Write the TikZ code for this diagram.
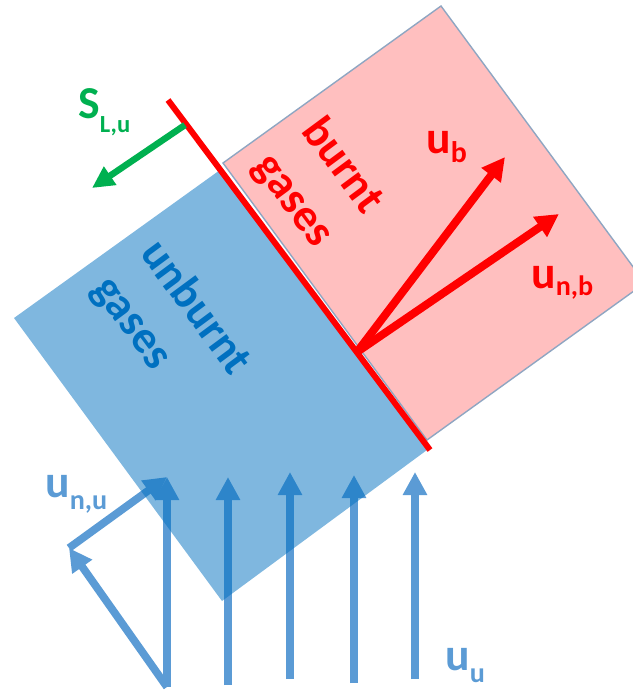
\documentclass[tikz,border=0pt]{standalone}
\usepackage{fontspec}
\setmainfont{Carlito}
\usetikzlibrary{arrows.meta}
\definecolor{flBlue}{HTML}{5B9BD5}
\definecolor{flDeep}{HTML}{0070C0}
\definecolor{flRed}{HTML}{FF0000}
\definecolor{flGreen}{HTML}{00B050}
\definecolor{flEdge}{HTML}{8FA6C2}
\newcommand{\lowsub}[3][6pt]{\raisebox{-#1}{\fontsize{#2}{#2}\selectfont #3}}
\tikzset{
  burntzone/.style={fill=flRed, fill opacity=0.25, draw=flEdge, draw opacity=1, line width=0.8pt},
  unburntzone/.style={fill=flDeep, fill opacity=0.5, draw=none},
  flame/.style={draw=flRed, line width=0.12cm},
  inflow/.style={-{Triangle[length=0.46cm, width=0.46cm]}, line width=0.155cm, flBlue},
  outflow/.style={-{Triangle[length=0.46cm, width=0.46cm]}, line width=0.16cm, flRed},
  speed/.style={-{Triangle[length=0.44cm, width=0.42cm]}, line width=0.13cm, flGreen},
  vlabel/.style={font=\fontsize{26}{31}\selectfont\bfseries, inner sep=0pt, anchor=base west},
  gaslabel/.style={font=\fontsize{26}{34}\selectfont\bfseries, align=left, rotate=-53.5, inner sep=0pt}
}
\begin{document}
\begin{tikzpicture}[x=0.02cm, y=-0.02cm]
  \useasboundingbox (0,0) rectangle (633,691);
  % burnt side
  \coordinate (b1) at (223,163); \coordinate (b2) at (441,6);
  \coordinate (b3) at (645,283); \coordinate (b4) at (427,440);
  \path[burntzone] (b1) -- (b2) -- (b3) -- (b4) -- cycle;
  % incoming flow
  \foreach \x/\ys/\ye [count=\i] in {167/687/477, 228/685/477, 290/679/472, 354/683/475, 415/679/472} {
    \coordinate (v\i-s) at (\x,\ys);
    \coordinate (v\i-e) at (\x,\ye);
    \draw[inflow] (v\i-s) -- (v\i-e);
  }
  \coordinate (tang) at (69,548);
  \draw[inflow] (v1-s) -- (tang);
  \draw[inflow] (tang) -- (v1-e);
  % unburnt side
  \coordinate (u1) at (220,170); \coordinate (u2) at (14,318);
  \coordinate (u3) at (222,601); \coordinate (u4) at (427,450);
  \path[unburntzone] (u1) -- (u2) -- (u3) -- (u4) -- cycle;
  % flame front
  \coordinate (f1) at (168,100); \coordinate (f2) at (430,450);
  \draw[flame] (f1) -- (f2);
  \coordinate (orig) at (357,352);
  \coordinate (ub) at (505,157); \coordinate (unb) at (559,214);
  \draw[outflow] (orig) -- (ub);
  \draw[outflow] (orig) -- (unb);
  \coordinate (sl-s) at (185,125); \coordinate (sl-e) at (92,188);
  \draw[speed] (sl-s) -- (sl-e);
  % labels
  \node[gaslabel, text=flRed] (burnt) at (318,184) {burnt\\gases};
  \node[gaslabel, text=flDeep] (unburnt) at (171,326) {unburnt\\gases};
  \node[vlabel, text=flGreen] (lsl) at (78,118) {S\lowsub[8pt]{14}{L,u}};
  \node[vlabel, text=flRed] (lub) at (426,153) {u\lowsub[5.5pt]{17}{b}};
  \node[vlabel, text=flRed] (lunb) at (531,288) {u\lowsub[4.5pt]{16}{n,b}};
  \node[vlabel, text=flBlue] (lunu) at (45,497) {u\lowsub[7pt]{16}{n,u}};
  \node[vlabel, text=flBlue] (luu) at (445,670) {u\lowsub[7pt]{16}{u}};
\end{tikzpicture}
\end{document}
